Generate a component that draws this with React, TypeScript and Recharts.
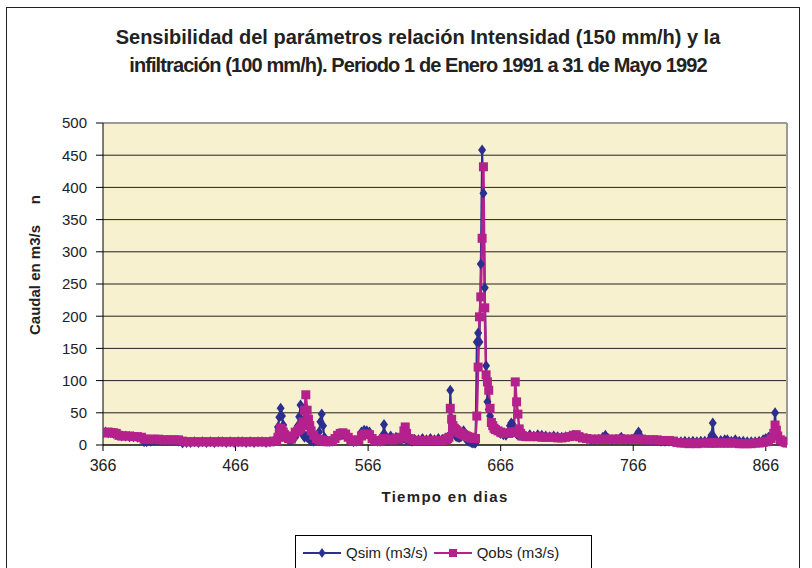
import React from 'react';
import { LineChart, Line, XAxis, YAxis, CartesianGrid, ReferenceLine, Legend } from 'recharts';

const dias = [
  // ene - may 1991
  366, 368, 370, 372, 374, 376, 378, 380, 383, 386,
  389, 392, 395, 397, 399, 402, 405, 408, 411, 414,
  417, 420, 423, 426, 429, 432, 435, 438, 441, 444,
  447, 450, 453, 456, 459, 462, 465, 468, 471, 474,
  477, 480, 483, 486, 489, 492, 495,
  // primeras crecidas
  497, 498, 499, 500, 501, 502, 503, 504, 506, 508,
  509, 511, 513, 514, 515, 516, 517, 518, 519, 520,
  521, 522, 523, 525, 527, 529, 530, 531, 532, 533,
  535,
  537, 539, 541, 543, 545, 547, 549, 551, 553, 555,
  557, 559, 561, 563, 565, 567, 569, 571, 573, 575,
  577, 578, 579, 581, 583, 585, 587, 589, 591, 593,
  594, 595, 597, 599, 601, 604, 607, 610, 613, 616,
  619, 622, 625, 626,
  // crecida principal
  627, 628, 629, 630, 631, 632, 633, 634, 635, 636,
  637, 638, 639, 640, 641, 642, 643, 644, 645, 646,
  647, 648, 649, 650, 651, 652, 653, 654, 655, 656,
  657, 658, 659, 660, 661, 662, 664, 666, 668, 670,
  672, 673, 674, 675, 676, 677, 678, 679, 680, 681,
  // recesión hasta may 1992
  682, 685, 688, 691, 694, 697, 700, 703, 706, 709,
  712, 715, 718, 721, 723, 725, 728, 731, 734, 737,
  740, 743, 745, 747, 750, 753, 756, 757, 759, 762,
  765, 768, 770, 772, 775, 778, 781, 784, 787, 790,
  793, 796, 799, 802, 805, 808, 811, 814, 817, 820,
  823, 825, 826, 827, 829, 832, 835, 837, 840, 843,
  846, 849, 852, 855, 858, 861, 864, 866, 868, 870,
  872, 873, 874, 875, 877, 879, 881, 882,
];

const qsim = [
  19, 20, 19, 19, 18, 17, 15, 14, 14, 13,
  13, 12, 10, 5, 5, 6, 7, 7, 7, 7,
  7, 7, 6, 3, 4, 4, 5, 4, 5, 4,
  5, 4, 5, 5, 4, 5, 4, 5, 5, 4,
  5, 4, 5, 5, 4, 5, 6,
  8, 28, 43, 57, 45, 31, 20, 12, 8, 7,
  10, 12, 30, 44, 62, 35, 15, 12, 14, 12,
  10, 8, 7, 6, 8, 20, 36, 48, 30, 12,
  6,
  6, 6, 8, 12, 15, 16, 15, 10, 7, 5,
  6, 10, 20, 23, 22, 20, 12, 8, 6, 6,
  15, 32, 15, 8, 14, 10, 12, 8, 8, 10,
  10, 8, 7, 6, 9, 8, 10, 8, 10, 8,
  10, 9, 10, 12,
  10, 85, 40, 25, 18, 14, 13, 12, 12, 13,
  16, 22, 12, 9, 8, 6, 5, 4, 3, 3,
  3, 160, 174, 160, 281, 458, 391, 244, 123, 67,
  55, 45, 38, 32, 28, 25, 20, 18, 16, 15,
  20, 30, 34, 32, 26, 20, 17, 16, 15, 15,
  15, 14, 16, 14, 16, 15, 14, 13, 14, 13,
  12, 13, 14, 15, 14, 12, 11, 10, 8, 8,
  9, 12, 15, 10, 8, 9, 10, 12, 9, 8,
  9, 14, 20, 12, 8, 7, 7, 7, 6, 6,
  6, 6, 5, 5, 6, 5, 6, 5, 6, 6,
  7, 15, 34, 12, 6, 7, 8, 8, 6, 8,
  6, 6, 5, 5, 5, 6, 8, 10, 12, 14,
  22, 50, 20, 12, 8, 6, 5, 4,
];

const qobs = [
  19, 19, 20, 19, 19, 18, 15, 14, 14, 14,
  13, 13, 12, 9, 9, 9, 9, 9, 8, 8,
  8, 8, 8, 6, 5, 5, 5, 5, 5, 5,
  5, 5, 5, 5, 5, 5, 5, 5, 5, 5,
  5, 5, 5, 5, 5, 5, 6,
  6, 12, 18, 26, 24, 20, 16, 12, 10, 9,
  14, 20, 22, 24, 26, 30, 36, 54, 78, 54,
  40, 30, 22, 15, 10, 8, 8, 7, 7, 6,
  5,
  6, 6, 10, 15, 18, 19, 17, 12, 8, 6,
  6, 8, 14, 17, 17, 16, 10, 7, 6, 6,
  8, 10, 9, 8, 9, 8, 10, 9, 12, 22,
  28, 18, 10, 8, 7, 7, 7, 7, 7, 7,
  7, 7, 8, 10,
  12, 57, 40, 30, 26, 24, 22, 20, 19, 18,
  17, 16, 15, 14, 13, 12, 12, 11, 11, 10,
  10, 45, 121, 199, 230, 321, 432, 213, 109, 98,
  85, 57, 35, 30, 26, 24, 22, 20, 18, 18,
  18, 19, 20, 20, 20, 98, 67, 48, 25, 18,
  14, 13, 13, 13, 13, 12, 12, 12, 12, 11,
  11, 12, 13, 15, 16, 13, 11, 10, 9, 9,
  9, 9, 9, 9, 9, 9, 9, 9, 9, 9,
  9, 9, 9, 9, 8, 8, 8, 8, 7, 7,
  7, 6, 4, 3, 3, 2, 3, 2, 3, 3,
  3, 3, 4, 3, 3, 3, 3, 3, 3, 3,
  2, 2, 2, 2, 3, 3, 4, 5, 6, 10,
  18, 31, 23, 14, 8, 5, 4, 3,
];

const xTicks = [366, 466, 566, 666, 766, 866];
const yTicks = [0, 50, 100, 150, 200, 250, 300, 350, 400, 450, 500];

const NAVY = '#2B2F8F';
const MAGENTA = '#B5218C';

const data = dias.map((d, i) => ({ dia: d, qsim: qsim[i], qobs: qobs[i] }));

const Diamond = (props: any) => {
  const { cx, cy } = props;
  if (cx == null || cy == null) return null;
  return (
    <path
      d={`M${cx},${cy - 5.5}L${cx + 4},${cy}L${cx},${cy + 5.5}L${cx - 4},${cy}Z`}
      fill={NAVY}
    />
  );
};

const Square = (props: any) => {
  const { cx, cy } = props;
  if (cx == null || cy == null) return null;
  return <rect x={cx - 4.5} y={cy - 4.5} width={9} height={9} fill={MAGENTA} />;
};

const LegendBox = (props: any) => {
  // Qsim primero, como en el original
  const items = [...(props.payload || [])].sort((a: any, b: any) =>
    a.dataKey === 'qsim' ? -1 : b.dataKey === 'qsim' ? 1 : 0
  );
  return (
    <div style={{ display: 'flex', alignItems: 'center', height: 33, paddingLeft: 7 }}>
      {items.map((it: any) => (
        <div key={it.value} style={{ display: 'flex', alignItems: 'center', marginRight: 6 }}>
          <svg width={38} height={12}>
            <line x1={0} y1={6} x2={38} y2={6} stroke={it.color} strokeWidth={2} />
            {it.dataKey === 'qsim' ? (
              <path d="M19,1L22.5,6L19,11L15.5,6Z" fill={NAVY} />
            ) : (
              <rect x={15} y={2} width={8} height={8} fill={MAGENTA} />
            )}
          </svg>
          <span style={{ fontSize: 15, color: '#222', marginLeft: 5 }}>{it.value}</span>
        </div>
      ))}
    </div>
  );
};

export default function App() {
  return (
    <div
      style={{
        position: 'absolute',
        left: 0,
        top: 0,
        width: 812,
        height: 568,
        background: '#fff',
        overflow: 'hidden',
        fontFamily: '"Liberation Sans", Arial, sans-serif',
      }}
    >
      <div
        style={{
          position: 'absolute',
          left: 6,
          top: 7,
          width: 792,
          height: 620,
          border: '1.5px solid #222',
        }}
      />
      <div
        style={{
          position: 'absolute',
          left: 0,
          top: 23,
          width: 836,
          textAlign: 'center',
          fontSize: 20,
          fontWeight: 'bold',
          lineHeight: '28px',
          color: '#222',
        }}
      >
        <div>Sensibilidad del parámetros relación Intensidad (150 mm/h) y la</div>
        <div style={{ letterSpacing: -0.9 }}>
          infiltración (100 mm/h). Periodo 1 de Enero 1991 a 31 de Mayo 1992
        </div>
      </div>
      <div
        style={{
          position: 'absolute',
          left: 35 - 100,
          top: 265 - 10,
          width: 200,
          height: 20,
          lineHeight: '20px',
          textAlign: 'center',
          transform: 'rotate(-90deg)',
          fontSize: 15,
          fontWeight: 'bold',
          color: '#222',
          whiteSpace: 'pre',
        }}
      >
        {'Caudal en m3/s     n'}
      </div>
      <div
        style={{
          position: 'absolute',
          left: 245,
          top: 488,
          width: 400,
          textAlign: 'center',
          fontSize: 15,
          fontWeight: 'bold',
          letterSpacing: 1.3,
          color: '#222',
        }}
      >
        Tiempo en dias
      </div>
      <div style={{ position: 'absolute', left: 0, top: 0 }}>
        <LineChart width={812} height={568} data={data} margin={{ top: 123, right: 25, bottom: 93, left: 43 }}>
          <CartesianGrid vertical={false} stroke="#222" fill="#F7F1CF" fillOpacity={1} />
          <XAxis
            dataKey="dia"
            type="number"
            domain={[366, 882]}
            ticks={xTicks}
            allowDataOverflow
            height={30}
            tickSize={6}
            tickMargin={9}
            interval={0}
            axisLine={{ stroke: '#000' }}
            tickLine={{ stroke: '#000' }}
            tick={{ fontSize: 16, fill: '#222' }}
          />
          <YAxis
            domain={[0, 500]}
            ticks={yTicks}
            width={60}
            tickSize={7}
            tickMargin={9}
            interval={0}
            axisLine={{ stroke: '#000' }}
            tickLine={{ stroke: '#000' }}
            tick={{ fontSize: 15, fill: '#222' }}
          />
          <ReferenceLine y={500} stroke="#9a9a9a" strokeWidth={2} />
          <ReferenceLine x={882} stroke="#9a9a9a" strokeWidth={2} />
          <Line
            dataKey="qsim"
            name="Qsim (m3/s)"
            stroke={NAVY}
            strokeWidth={2}
            dot={<Diamond />}
            activeDot={false}
            isAnimationActive={false}
          />
          <Line
            dataKey="qobs"
            name="Qobs (m3/s)"
            stroke={MAGENTA}
            strokeWidth={2.5}
            dot={<Square />}
            activeDot={false}
            isAnimationActive={false}
          />
          <Legend
            layout="horizontal"
            verticalAlign="middle"
            align="center"
            content={<LegendBox />}
            wrapperStyle={{
              left: 295,
              top: 535,
              width: 297,
              height: 40,
              border: '1px solid #000',
              background: '#fff',
              boxSizing: 'border-box',
            }}
          />
        </LineChart>
      </div>
    </div>
  );
}
